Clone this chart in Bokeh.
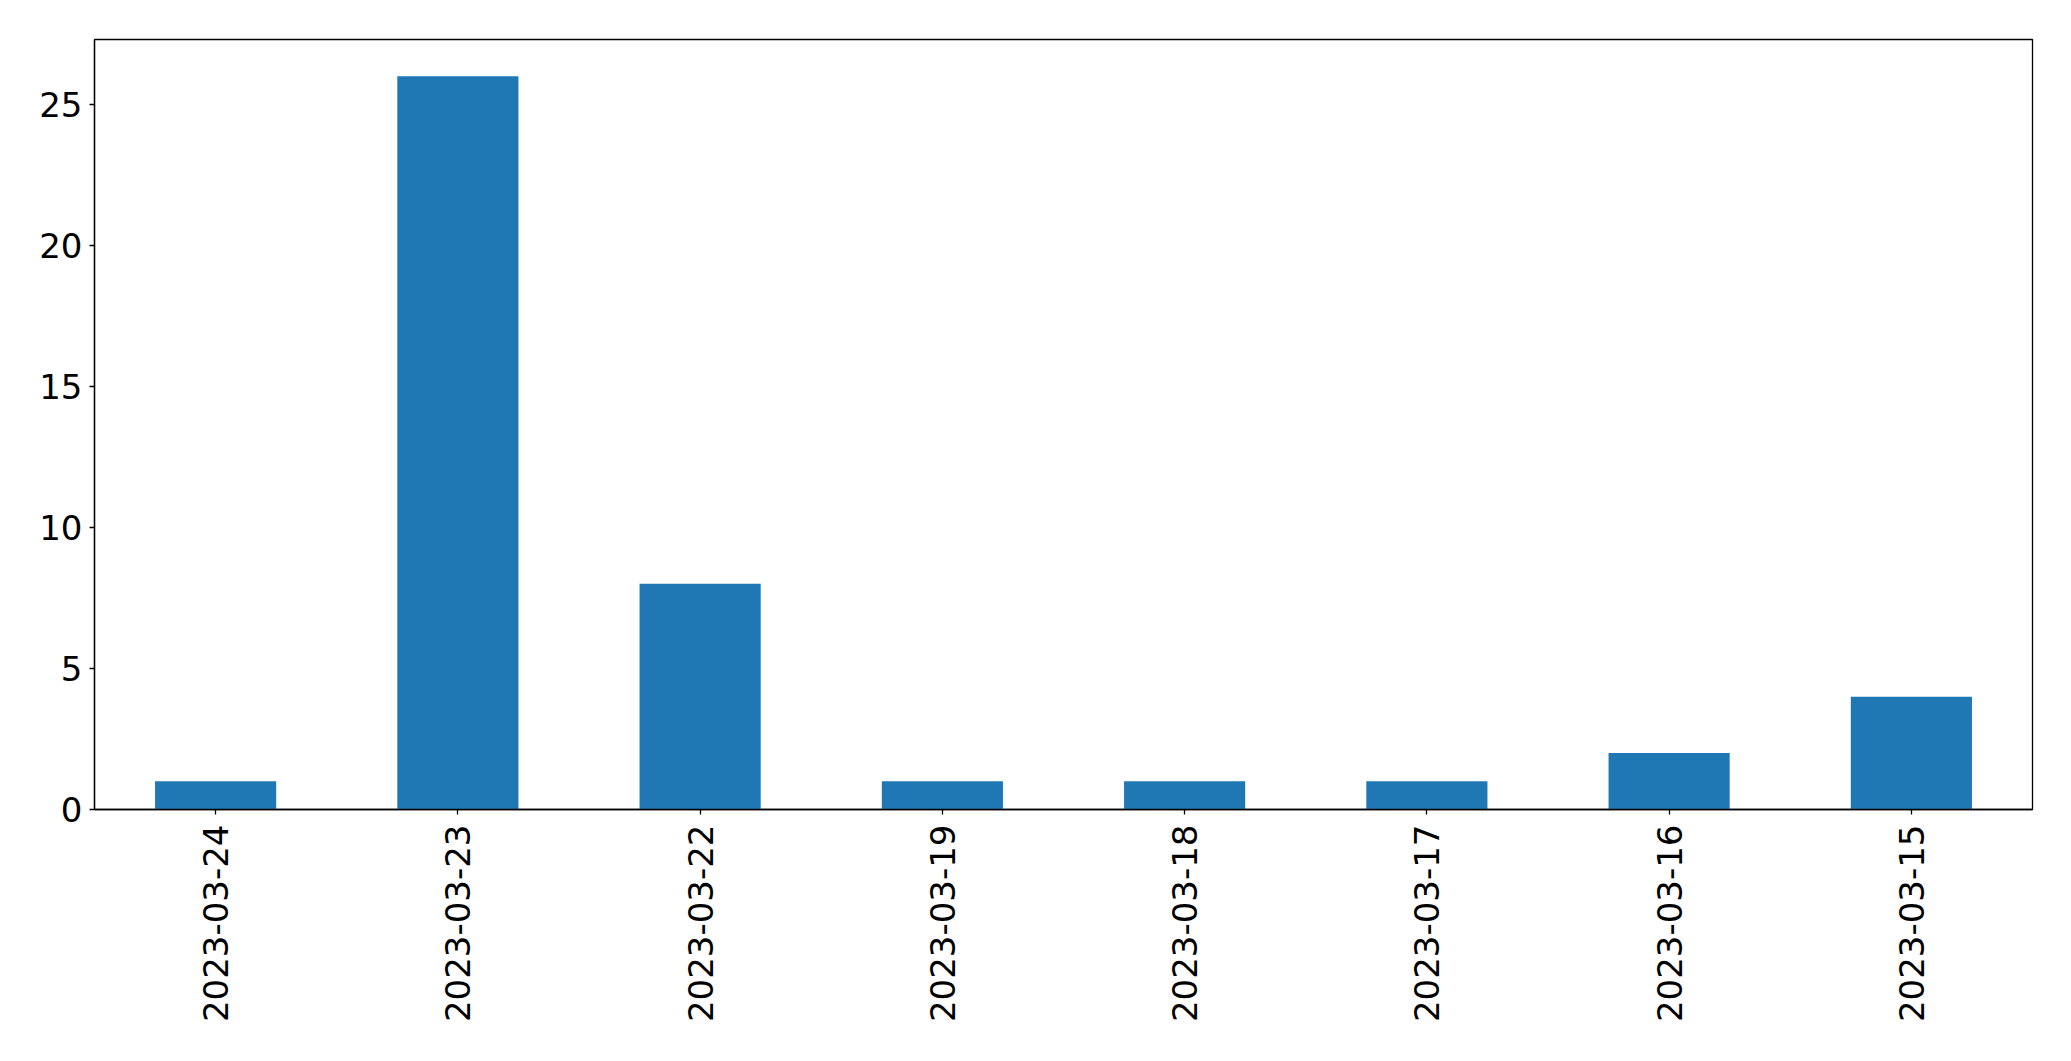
import math
from bokeh.plotting import figure
from bokeh.models import FactorRange, Range1d, ColumnDataSource
from bokeh.embed import file_html
from bokeh.resources import INLINE

dates = ["2023-03-24", "2023-03-23", "2023-03-22", "2023-03-19",
         "2023-03-18", "2023-03-17", "2023-03-16", "2023-03-15"]
counts = [1, 26, 8, 1, 1, 1, 2, 4]

source = ColumnDataSource(data=dict(dates=dates, counts=counts))

p = figure(
    x_range=FactorRange(*dates, range_padding=0.0),
    y_range=Range1d(0, max(counts) * 1.05),
    width=2063, height=1053,
    output_backend="svg", toolbar_location=None,
    min_border_left=94, min_border_right=31,
    min_border_top=39, min_border_bottom=244,
)
p.x_range.factor_padding = 0.0

p.vbar(x="dates", top="counts", width=0.5, source=source,
       fill_color="#1f77b4", line_color=None)

p.xgrid.visible = False
p.ygrid.visible = False
p.outline_line_color = "black"
p.outline_line_width = 1.3
p.background_fill_color = "white"
p.border_fill_color = "white"

for ax in (p.xaxis[0], p.yaxis[0]):
    ax.axis_line_color = "black"
    ax.axis_line_width = 1.3
    ax.major_tick_line_color = "black"
    ax.major_tick_line_width = 1.3
    ax.major_tick_out = 5
    ax.major_tick_in = 0
    ax.minor_tick_line_color = None
    ax.major_label_text_font = "DejaVu Sans"
    ax.major_label_text_font_size = "34px"
    ax.major_label_text_color = "black"

p.xaxis.major_label_orientation = math.pi / 2
p.xaxis.major_label_standoff = 10
p.yaxis.major_label_standoff = 7
p.yaxis.ticker = [0, 5, 10, 15, 20, 25]

open("out.html", "w").write(file_html(p, INLINE))
